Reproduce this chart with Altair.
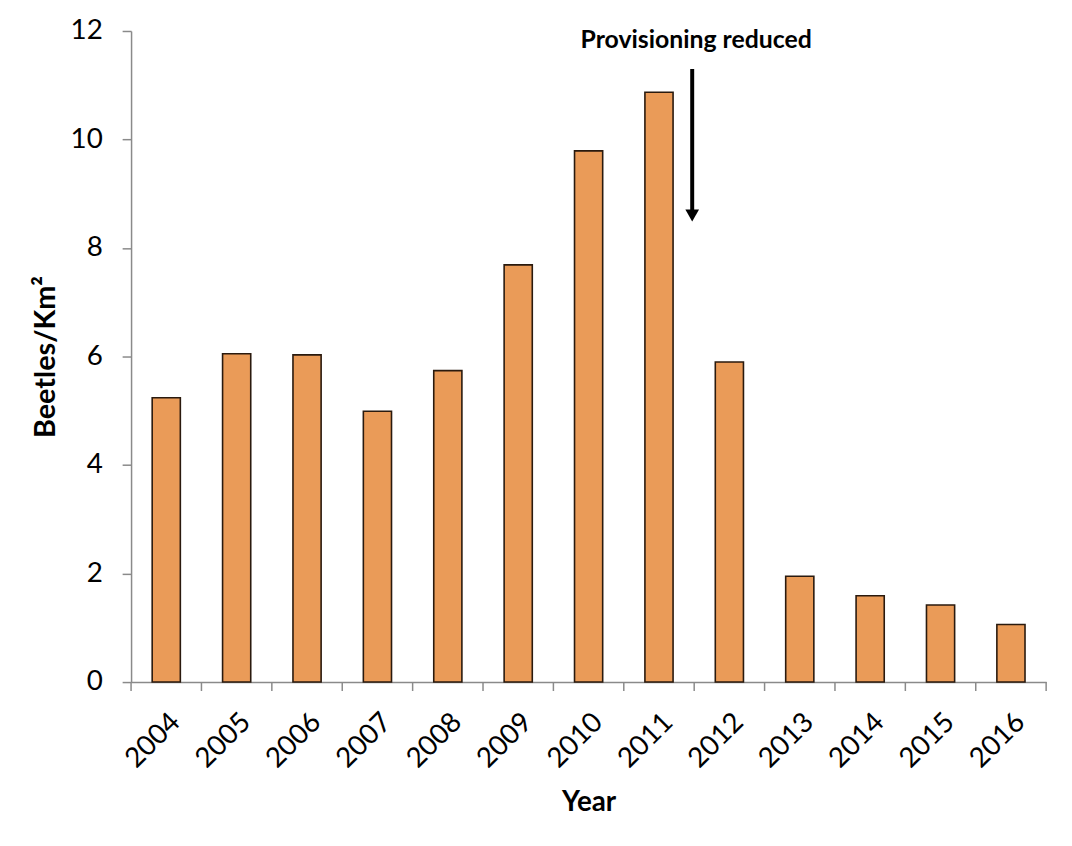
import altair as alt
import pandas as pd

# ---- data ----
years = ["2004", "2005", "2006", "2007", "2008", "2009", "2010",
         "2011", "2012", "2013", "2014", "2015", "2016"]
beetles = [5.24, 6.05, 6.03, 4.99, 5.74, 7.69, 9.79,
           10.87, 5.90, 1.95, 1.59, 1.42, 1.06]
y_ticks = [0, 2, 4, 6, 8, 10, 12]

annotation_text = ["Provisioning reduced"]
annotation_year = ["2011"]          # arrow sits at the 2011 / 2012 boundary
arrow_top = [11.3]
arrow_bottom = [8.7]
arrow_head = [8.6]
text_level = [11.83]

W, H = 922, 656
FONT = "Lato"
AXIS_GRAY = "#8a8a8a"

df = pd.DataFrame({"year": years, "beetles": beetles})
df_last = pd.DataFrame({"year": [years[-1]]})
df_ann = pd.DataFrame({"year": annotation_year, "top": arrow_top,
                       "bottom": arrow_bottom, "head": arrow_head,
                       "ty": text_level, "label": annotation_text})

x_scale = alt.Scale(domain=years, paddingInner=0, paddingOuter=0)
y_scale = alt.Scale(domain=[0, 12], nice=False)

bars = alt.Chart(df).mark_bar(
    color="#EA9B58", stroke="#2a1a0e", strokeWidth=1.6, width={"band": 0.4}
).encode(
    x=alt.X("year:N", scale=x_scale, sort=years,
            axis=alt.Axis(title="Year", labelAngle=-45, ticks=False,
                          labelFontSize=28, labelFont=FONT, labelColor="black",
                          labelPadding=26, domainColor=AXIS_GRAY, domainWidth=1.5,
                          titleFontSize=28, titleFont=FONT, titleFontWeight="bold",
                          titleColor="black", titlePadding=16)),
    y=alt.Y("beetles:Q", scale=y_scale,
            axis=alt.Axis(title="Beetles/Km²", values=y_ticks, format="d", grid=False,
                          tickSize=9, tickColor=AXIS_GRAY, tickWidth=1.5,
                          domainColor=AXIS_GRAY, domainWidth=1.5,
                          labelFontSize=28, labelFont=FONT, labelColor="black",
                          labelPadding=20,
                          titleFontSize=29, titleFont=FONT, titleFontWeight="bold",
                          titleColor="black", titlePadding=10)),
)

# category-boundary ticks (Excel style)
ticks_left = alt.Chart(df).mark_rule(color=AXIS_GRAY, strokeWidth=1.5).encode(
    x=alt.X("year:N", bandPosition=0, scale=x_scale, sort=years),
    y=alt.value(H), y2=alt.value(H + 9),
)
tick_right = alt.Chart(df_last).mark_rule(color=AXIS_GRAY, strokeWidth=1.5).encode(
    x=alt.X("year:N", bandPosition=1, scale=x_scale, sort=years),
    y=alt.value(H), y2=alt.value(H + 9),
)

arrow_line = alt.Chart(df_ann).mark_rule(color="black", strokeWidth=4, xOffset=-2).encode(
    x=alt.X("year:N", bandPosition=1, scale=x_scale, sort=years),
    y=alt.Y("top:Q", scale=y_scale),
    y2="bottom:Q",
)
arrow_tip = alt.Chart(df_ann).mark_point(
    shape="triangle-down", filled=True, color="black", size=190, opacity=1, xOffset=-2
).encode(
    x=alt.X("year:N", bandPosition=1, scale=x_scale, sort=years),
    y=alt.Y("head:Q", scale=y_scale),
)
arrow_text = alt.Chart(df_ann).mark_text(
    font=FONT, fontSize=25, fontWeight="bold", color="black",
    align="center", baseline="middle", xOffset=2
).encode(
    x=alt.X("year:N", bandPosition=1, scale=x_scale, sort=years),
    y=alt.Y("ty:Q", scale=y_scale),
    text="label:N",
)

chart = alt.layer(bars, ticks_left, tick_right, arrow_line, arrow_tip, arrow_text).properties(
    width=W, height=H,
    background="white",
    autosize=alt.AutoSizeParams(type="none"),
    padding={"left": 124, "top": 20, "right": 18, "bottom": 160},
).configure_view(stroke=None)

chart.save("out.html", embed_options={"renderer": "svg", "actions": False})
